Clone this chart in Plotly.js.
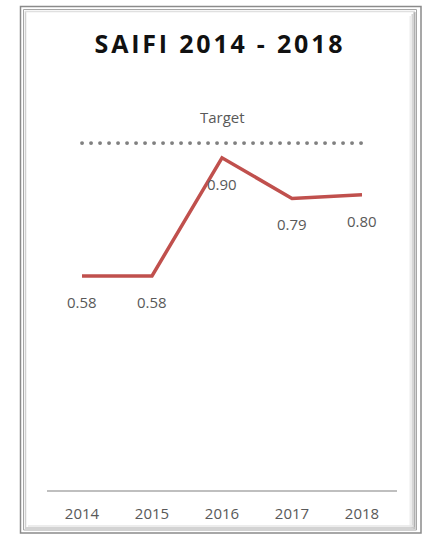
<!DOCTYPE html>
<html>
<head>
<meta charset="utf-8">
<script src="https://cdn.plot.ly/plotly-3.0.1.min.js"></script>
<style>
html,body{margin:0;padding:0;background:#fff;}
.gtitle{letter-spacing:2.8px;}
.scatterlayer .trace:first-child .js-line{stroke-linecap:round;}
</style>
</head>
<body>
<div id="chart" style="width:423px;height:536px;"></div>
<script>
// ---- data ----
const years = ['2014', '2015', '2016', '2017', '2018'];
const saifi = [0.58, 0.58, 0.90, 0.79, 0.80];
const target = [0.94, 0.94, 0.94, 0.94, 0.94];
const saifiLabels = ['0.58', '0.58', '0.90', '0.79', '0.80'];
const titleText = 'SAIFI 2014 - 2018';
const targetName = 'Target';

// ---- geometry helpers (layout only) ----
const W = 423, H = 536;
const M = {l: 47, r: 26, t: 84, b: 46};
const pw = W - M.l - M.r, ph = H - M.t - M.b;
const px = x => (x - M.l) / pw;
const py = y => (H - M.b - y) / ph;

function rect(x0, y0, x1, y1, color, width) {
  return {type: 'rect', xref: 'paper', yref: 'paper', layer: 'above',
    x0: px(x0), x1: px(x1), y0: py(y1), y1: py(y0),
    line: {color: color, width: width}, fillcolor: 'rgba(0,0,0,0)'};
}
function vline(x, y0, y1, color, width) {
  return {type: 'line', xref: 'paper', yref: 'paper', layer: 'above',
    x0: px(x), x1: px(x), y0: py(y1), y1: py(y0), line: {color: color, width: width}};
}
function hline(y, x0, x1, color, width) {
  return {type: 'line', xref: 'paper', yref: 'paper', layer: 'above',
    x0: px(x0), x1: px(x1), y0: py(y), y1: py(y), line: {color: color, width: width}};
}

const FONT = 'Open Sans, Lato, sans-serif';

const traces = [
  {
    type: 'scatter', mode: 'lines', x: years, y: target, name: targetName,
    line: {color: '#808080', width: 3.8, dash: '0.1px,8.9px'},
    hoverinfo: 'skip', showlegend: false
  },
  {
    type: 'scatter', mode: 'lines', x: years, y: saifi, name: 'SAIFI',
    line: {color: '#c0504d', width: 3.5},
    showlegend: false
  }
];

// category axis: annotations take the category index
const annotations = years.map((yr, i) => ({
  x: i, y: saifi[i], xref: 'x', yref: 'y', text: saifiLabels[i],
  showarrow: false, yshift: -26, font: {family: FONT, size: 15, color: '#595959'}
}));
annotations.push({
  x: 2, y: target[2], xref: 'x', yref: 'y', text: targetName,
  showarrow: false, yshift: 26, font: {family: FONT, size: 15, color: '#595959'}
});

const shapes = [
  rect(20.5, 6.5, 421, 533, '#8a8a8a', 1.5),
  rect(23.5, 9.5, 416.5, 530, '#a6a6a6', 1),
  vline(414.5, 12, 529, '#b0b0b0', 2),
  vline(412.5, 14, 528, '#d6d6d6', 2),
  vline(410.5, 16, 527, '#eeeeee', 2),
  hline(528, 26, 415, '#c4c4c4', 1.5),
  hline(526, 28, 413, '#e6e6e6', 1.5),
  vline(25.5, 11, 529, '#d0d0d0', 1.5),
  hline(11.5, 25, 415, '#e0e0e0', 1.5)
];

const layout = {
  width: W, height: H, autosize: false,
  margin: M,
  paper_bgcolor: '#ffffff', plot_bgcolor: '#ffffff',
  title: {
    text: titleText, x: 220 / W, xref: 'container', xanchor: 'center',
    y: 1 - 44 / H, yref: 'container', yanchor: 'middle',
    font: {family: FONT, size: 25, weight: 'bold', color: '#111111'}
  },
  xaxis: {
    type: 'category', range: [-0.5, 4.5], showline: true, linecolor: '#bfbfbf', linewidth: 1.5,
    showgrid: false, zeroline: false, ticks: '', ticklabelstandoff: 9,
    tickfont: {family: FONT, size: 15, color: '#595959'}, fixedrange: true
  },
  yaxis: {
    range: [0, 1.1], visible: false, showgrid: false, zeroline: false, fixedrange: true
  },
  annotations: annotations,
  shapes: shapes,
  showlegend: false
};

Plotly.newPlot('chart', traces, layout, {displayModeBar: false, staticPlot: true});
</script>
</body>
</html>
